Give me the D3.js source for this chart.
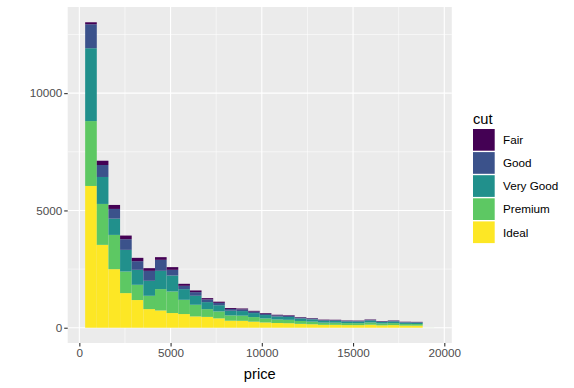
<!DOCTYPE html>
<html>
<head>
<meta charset="utf-8">
<script src="https://cdn.jsdelivr.net/npm/d3@7"></script>
<style>
  body { margin: 0; background: #fff; }
  text { font-family: "Liberation Sans", Arial, sans-serif; }
</style>
</head>
<body>
<svg id="chart" width="574" height="388"></svg>
<script>
// histogram bins of price (30 bins), left edges
const binStarts = [318.9, 956.7, 1594.6, 2232.4, 2870.3, 3508.1, 4146.0, 4783.8, 5421.7, 6059.5,
  6697.4, 7335.2, 7973.1, 8610.9, 9248.8, 9886.6, 10524.5, 11162.3, 11800.2, 12438.0,
  13075.9, 13713.7, 14351.6, 14989.4, 15627.3, 16265.1, 16903.0, 17540.8, 18178.7, 18816.5];
const binWidth = 637.83;

const cuts = ["Fair", "Good", "Very Good", "Premium", "Ideal"];
const cutColors = ["#440154", "#3B528B", "#21908C", "#5DC863", "#FDE725"];

const fair = [85, 183, 170, 155, 142, 114, 114, 115, 85, 72, 55, 50, 40, 38, 34, 30, 26, 25, 22, 20, 17, 16, 15, 15, 17, 14, 15, 12, 12, 0];
const good = [1021, 510, 413, 455, 369, 425, 469, 242, 142, 155, 115, 100, 75, 72, 62, 55, 48, 46, 40, 36, 30, 30, 27, 26, 30, 25, 27, 22, 22, 0];
const veryGood = [3106, 1149, 694, 923, 638, 638, 778, 681, 454, 383, 300, 265, 200, 195, 170, 145, 128, 122, 105, 95, 80, 78, 72, 70, 81, 66, 72, 59, 57, 1];
const premium = [2766, 1745, 1461, 920, 650, 568, 911, 919, 608, 497, 330, 295, 225, 220, 195, 170, 150, 144, 123, 112, 94, 92, 85, 83, 96, 77, 85, 69, 68, 1];
const ideal = [6043, 3532, 2496, 1476, 1180, 794, 736, 626, 583, 482, 462, 400, 300, 295, 259, 225, 201, 193, 165, 149, 124, 124, 112, 111, 129, 103, 112, 93, 91, 1];

const xTicks = [0, 5000, 10000, 15000, 20000];
const xMinor = [2500, 7500, 12500, 17500];
const yTicks = [0, 5000, 10000];
const yMinor = [2500, 7500, 12500];

const panel = { left: 67.7, right: 451.8, top: 7, bottom: 343 };

const rows = binStarts.map((s, i) => ({
  x0: s, x1: s + binWidth,
  Fair: fair[i], Good: good[i], "Very Good": veryGood[i], Premium: premium[i], Ideal: ideal[i]
}));

// ggplot stacks the first level on top, so stack from Ideal upward
const stack = d3.stack().keys(cuts.slice().reverse());
const series = stack(rows);

const xLo = binStarts[0], xHi = binStarts[binStarts.length - 1] + binWidth;
const xPad = (xHi - xLo) * 0.05;
const yMax = d3.max(series[series.length - 1], d => d[1]);
const yPad = yMax * 0.05;

const x = d3.scaleLinear().domain([xLo - xPad, xHi + xPad]).range([panel.left, panel.right]);
const y = d3.scaleLinear().domain([-yPad, yMax + yPad]).range([panel.bottom, panel.top]);
const color = d3.scaleOrdinal().domain(cuts).range(cutColors);

const svg = d3.select("#chart");

svg.append("rect")
  .attr("x", panel.left).attr("y", panel.top)
  .attr("width", panel.right - panel.left).attr("height", panel.bottom - panel.top)
  .attr("fill", "#EBEBEB");

const grid = svg.append("g");
grid.selectAll(".xminor").data(xMinor).join("line")
  .attr("x1", d => x(d)).attr("x2", d => x(d))
  .attr("y1", panel.top).attr("y2", panel.bottom)
  .attr("stroke", "#fff").attr("stroke-width", 0.55);
grid.selectAll(".yminor").data(yMinor).join("line")
  .attr("y1", d => y(d)).attr("y2", d => y(d))
  .attr("x1", panel.left).attr("x2", panel.right)
  .attr("stroke", "#fff").attr("stroke-width", 0.55);
grid.selectAll(".xmajor").data(xTicks).join("line")
  .attr("x1", d => x(d)).attr("x2", d => x(d))
  .attr("y1", panel.top).attr("y2", panel.bottom)
  .attr("stroke", "#fff").attr("stroke-width", 1.1);
grid.selectAll(".ymajor").data(yTicks).join("line")
  .attr("y1", d => y(d)).attr("y2", d => y(d))
  .attr("x1", panel.left).attr("x2", panel.right)
  .attr("stroke", "#fff").attr("stroke-width", 1.1);

svg.append("g").selectAll("g").data(series).join("g")
  .attr("fill", d => color(d.key))
  .selectAll("rect").data(d => d).join("rect")
  .attr("x", d => x(d.data.x0))
  .attr("width", d => x(d.data.x1) - x(d.data.x0))
  .attr("y", d => y(d[1]))
  .attr("height", d => Math.max(0, y(d[0]) - y(d[1])));

// axes
const xAxis = d3.axisBottom(x).tickValues(xTicks).tickSize(3.5).tickPadding(2).tickFormat(d3.format("d"));
const gx = svg.append("g").attr("transform", `translate(0,${panel.bottom})`).call(xAxis);
const yAxis = d3.axisLeft(y).tickValues(yTicks).tickSize(3.5).tickPadding(2).tickFormat(d3.format("d"));
const gy = svg.append("g").attr("transform", `translate(${panel.left},0)`).call(yAxis);
[gx, gy].forEach(g => {
  g.select(".domain").remove();
  g.selectAll(".tick line").attr("stroke", "#333").attr("stroke-width", 1.1);
  g.selectAll(".tick text").attr("fill", "#4D4D4D").style("font-size", "11.7px");
});

svg.append("text")
  .attr("x", (panel.left + panel.right) / 2).attr("y", 379)
  .attr("text-anchor", "middle").style("font-size", "14.7px").attr("fill", "#000")
  .text("price");

// legend
const legend = svg.append("g").attr("transform", "translate(473,0)");
legend.append("text").attr("x", 0).attr("y", 124)
  .style("font-size", "14.7px").attr("fill", "#000").text("cut");
const keys = legend.selectAll(".key").data(cuts).join("g")
  .attr("transform", (d, i) => `translate(0,${129 + i * 23.1})`);
keys.append("rect")
  .attr("width", 21.7).attr("height", 21.7)
  .attr("fill", d => color(d));
keys.append("text")
  .attr("x", 30).attr("y", 15.2)
  .style("font-size", "11.7px").attr("fill", "#000")
  .text(d => d);
</script>
</body>
</html>
